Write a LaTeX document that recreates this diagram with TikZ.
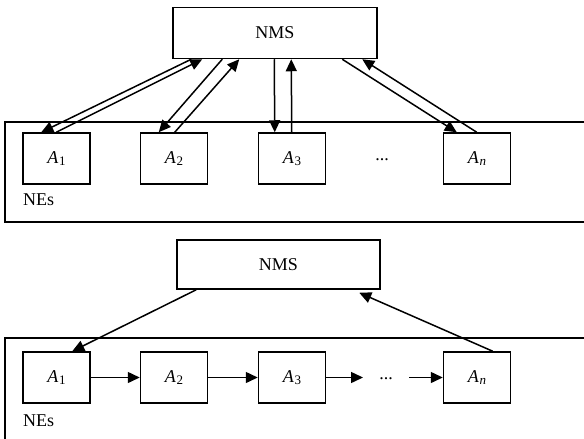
\documentclass[tikz,border=0pt]{standalone}
\usepackage{fontspec}
\setmainfont{Liberation Serif}
\usetikzlibrary{arrows.meta}
\newcommand{\Asub}[1]{\textit{A}\kern0.5pt\raisebox{-0.25ex}{\fontsize{13}{14}\selectfont #1}}
\begin{document}
\begin{tikzpicture}[x=1pt,y=-1pt,
  box/.style={draw,line width=1.5pt,inner sep=0pt,font=\fontsize{18}{21}\selectfont},
  nms/.style={box,minimum width=204pt,minimum height=51pt},
  abox/.style={box,minimum width=67pt,minimum height=51pt},
  outer/.style={draw,line width=1.2pt},
  arr/.style={line width=1.5pt,-{Triangle[length=12pt,width=11pt]}},
  lbl/.style={anchor=west,inner sep=0pt,font=\fontsize{18}{21}\selectfont}]
\useasboundingbox (0,0) rectangle (584,439);
% ---------- top diagram ----------
\draw[outer] (5,122) rectangle (600,222);
\node[nms] (nms1) at (275,33) {NMS};
\node[abox] (a1) at (56.5,158.5) {\Asub{1}};
\node[abox] (a2) at (174,158.5) {\Asub{2}};
\node[abox] (a3) at (292,158.5) {\Asub{3}};
\node[abox] (an) at (477,158.5) {\Asub{\textit{n}}};
\node[inner sep=0pt,font=\fontsize{18}{21}\selectfont] (dots1) at (382,160) {...};
\node[lbl] (ne1) at (23,200) {NEs};
\draw[arr] ([xshift=19pt]nms1.south west) -- ([xshift=19pt]a1.north west);
\draw[arr] ([xshift=34pt]a1.north west) -- ([xshift=30pt]nms1.south west);
\draw[arr] ([xshift=50pt]nms1.south west) -- ([xshift=19pt]a2.north west);
\draw[arr] ([xshift=35pt]a2.north west) -- ([xshift=67pt]nms1.south west);
\draw[arr] ([xshift=102pt]nms1.south west) -- ([xshift=17pt]a3.north west);
\draw[arr] ([xshift=34pt]a3.north west) -- ([xshift=119pt]nms1.south west);
\draw[arr] ([xshift=170pt]nms1.south west) -- ([xshift=14pt]an.north west);
\draw[arr] ([xshift=34pt]an.north west) -- ([xshift=190pt]nms1.south west);
% ---------- bottom diagram ----------
\draw[outer] (5,338) rectangle (600,450);
\node[nms,minimum width=203pt,minimum height=49pt] (nms2) at (278.5,264.5) {NMS};
\node[abox] (b1) at (56.5,377.5) {\Asub{1}};
\node[abox] (b2) at (174,377.5) {\Asub{2}};
\node[abox] (b3) at (292,377.5) {\Asub{3}};
\node[abox] (bn) at (477,377.5) {\Asub{\textit{n}}};
\node[inner sep=0pt,font=\fontsize{18}{21}\selectfont] (dots2) at (386,379) {...};
\coordinate (d1) at (363,377.5);
\coordinate (d2) at (409,377.5);
\node[lbl] (ne2) at (23,421) {NEs};
\draw[arr] ([xshift=20pt]nms2.south west) -- ([xshift=50pt]b1.north west);
\draw[arr] ([xshift=50pt]bn.north west) -- ([xshift=183pt,yshift=-3pt]nms2.south west);
\draw[arr] (b1.east) -- (b2.west);
\draw[arr] (b2.east) -- (b3.west);
\draw[arr] (b3.east) -- (d1);
\draw[arr] (d2) -- (bn.west);
\end{tikzpicture}
\end{document}
